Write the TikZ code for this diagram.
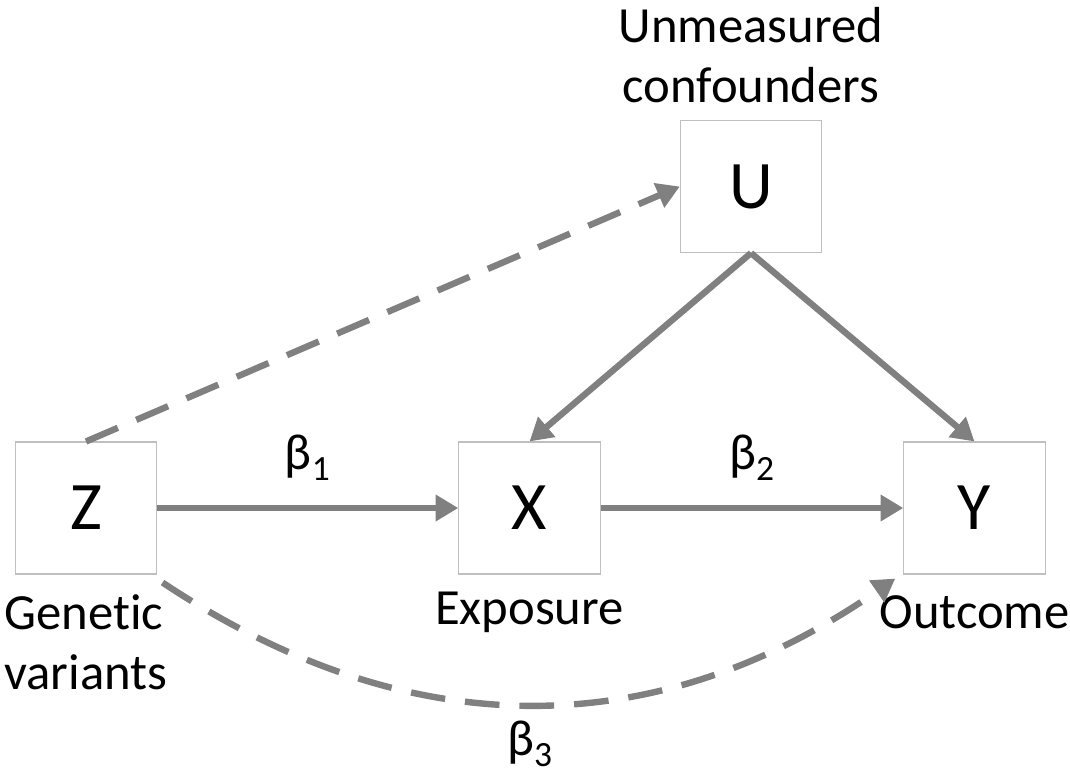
\documentclass[tikz,border=0pt]{standalone}
\usepackage{fontspec}
\setmainfont{Carlito}[Ligatures=NoCommon]
\usetikzlibrary{arrows.meta}
\begin{document}
\begin{tikzpicture}[x=0.75pt,y=-0.75pt,
  var/.style={draw=black!25, line width=0.8pt, minimum width=106pt, minimum height=99pt, inner sep=0pt, font=\fontsize{51}{51}\selectfont},
  lbl/.style={font=\fontsize{38}{45}\selectfont, align=center, inner sep=0pt},
  link/.style={draw=black!50, line width=4.8pt, -{Triangle[length=17pt,width=19pt]}},
  maybe/.style={link, dash pattern=on 26pt off 15pt}]
\useasboundingbox (0,0) rectangle (1070,778);
\node[var] (Z) at (86,508) {Z};
\node[var] (X) at (529.5,508) {X};
\node[var] (Y) at (974.5,508) {Y};
\node[var] (U) at (751,186.5) {U};
\node[lbl] (Ut) at (751,55) {Unmeasured\\confounders};
\node[lbl, align=left, anchor=west] (Zt) at (4,642) {Genetic\\variants};
\node[lbl] (Xt) at (529.5,612) {Exposure};
\node[lbl] (Yt) at (974.5,612) {Outcome};
\draw[link] (Z) -- node[lbl, above=18pt] (b1) {β\textsubscript{1}} (X);
\draw[link] (X) -- node[lbl, above=18pt] (b2) {β\textsubscript{2}} (Y);
\draw[link] (U.south) -- (X.north);
\draw[link] (U.south) -- (Y.north);
\draw[maybe] (Z.north) -- (U.west);
\draw[maybe] ([xshift=4pt,yshift=-6pt]Z.south east) .. controls +(240,160) and +(-245,170) .. ([xshift=-6pt,yshift=-3pt]Y.south west);
\node[lbl] (b3) at (530,744) {β\textsubscript{3}};
\end{tikzpicture}
\end{document}
